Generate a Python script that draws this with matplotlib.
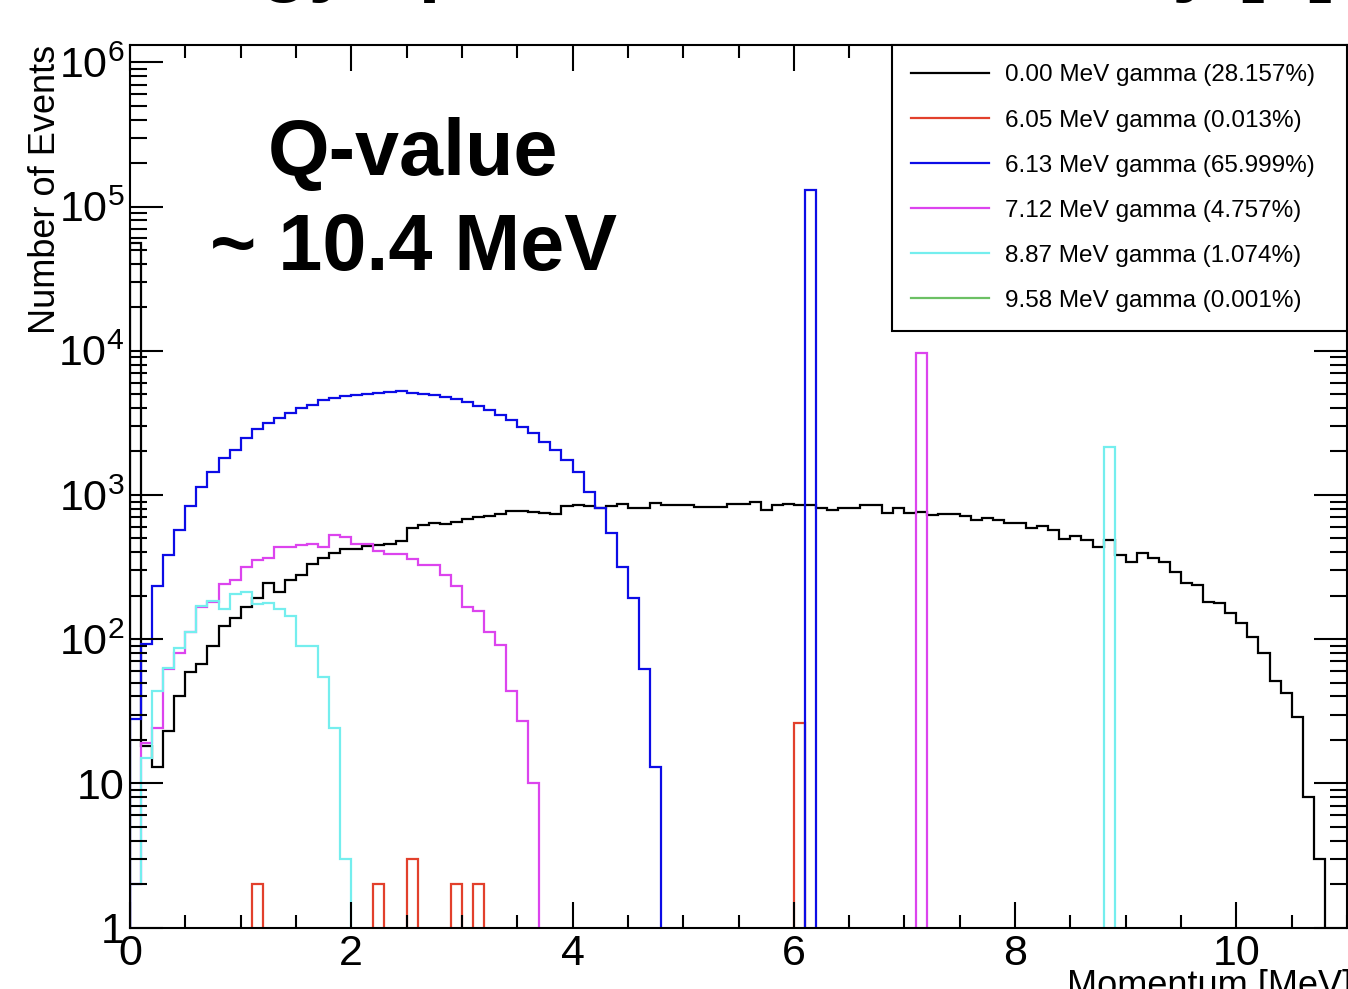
import numpy as np
import matplotlib.pyplot as plt
from matplotlib.lines import Line2D
from matplotlib.ticker import MultipleLocator, LogLocator, NullFormatter

plt.rcParams['font.family'] = ['Liberation Sans', 'DejaVu Sans']
plt.rcParams['mathtext.fontset'] = 'custom'
plt.rcParams['mathtext.rm'] = 'Liberation Sans'

# ==========================
# Binning (0.1 MeV bins, 0 - 11 MeV)
# ==========================
n_bins = 110
edges = np.arange(n_bins + 1) * 0.1

# ==========================
# Counts per bin
# ==========================
counts_0_00 = [
    56000, 18, 13, 23, 40, 59, 67, 90, 124, 140,
    167, 192, 246, 212, 258, 280, 330, 363, 395, 420,
    420, 440, 452, 455, 480, 592, 620, 638, 632, 645,
    678, 700, 712, 740, 772, 777, 762, 745, 735, 835,
    845, 835, 805, 835, 865, 807, 807, 875, 851, 851,
    845, 820, 820, 828, 870, 870, 892, 785, 851, 870,
    851, 845, 815, 780, 810, 807, 851, 851, 745, 805,
    753, 760, 720, 738, 738, 714, 665, 688, 665, 635,
    635, 587, 609, 571, 492, 519, 487, 437, 487, 383,
    344, 394, 363, 344, 294, 244, 237, 180, 177, 151,
    129, 104, 80, 51, 42, 29, 8, 3, 0, 0,
]

counts_6_05 = [0] * n_bins
for b, v in [(11, 2), (22, 2), (25, 3), (29, 2), (31, 2), (60, 26)]:
    counts_6_05[b] = v

counts_6_13 = [
    28, 93, 233, 385, 571, 842, 1128, 1447, 1815, 2040,
    2480, 2850, 3130, 3390, 3700, 4020, 4200, 4520, 4720, 4820,
    4930, 4985, 5070, 5145, 5230, 5115, 5010, 4955, 4750, 4650,
    4405, 4130, 3880, 3600, 3300, 2970, 2670, 2340, 2040, 1740,
    1432, 1052, 807, 540, 315, 192, 62, 13,
] + [0] * 62
counts_6_13[61] = 131000

counts_7_12 = [
    2, 19, 24, 62, 80, 112, 168, 180, 242, 257,
    318, 354, 363, 437, 437, 449, 456, 437, 527, 508,
    458, 455, 410, 387, 387, 362, 327, 327, 280, 232,
    167, 156, 112, 91, 44, 27, 10,
] + [0] * 73
counts_7_12[71] = 9600

counts_8_87 = [
    2, 15, 44, 63, 87, 112, 171, 183, 163, 205,
    213, 174, 177, 163, 145, 89, 89, 55, 24, 3,
] + [0] * 90
counts_8_87[88] = 2150

counts_9_58 = [0] * n_bins

labels = [
    "0.00 MeV gamma (28.157%)",
    "6.05 MeV gamma (0.013%)",
    "6.13 MeV gamma (65.999%)",
    "7.12 MeV gamma (4.757%)",
    "8.87 MeV gamma (1.074%)",
    "9.58 MeV gamma (0.001%)",
]
colors = ["#000000", "#e2402c", "#0c0ce6", "#dc44ee", "#74eeee", "#6cc064"]
series = [counts_0_00, counts_6_05, counts_6_13, counts_7_12, counts_8_87, counts_9_58]

y_top = 10 ** 6.12

# ==========================
# Plot
# ==========================
fig = plt.figure(figsize=(13.48, 9.89), dpi=100)
ax = fig.add_axes([130 / 1348, 61.5 / 989, 1217 / 1348, 882.5 / 989])

floor = 1e-3  # empty bins drawn below the log axis, like ROOT
for counts, c in zip(series, colors):
    vals = np.asarray(counts, dtype=float)
    vals = np.where(vals > 0, vals, floor)
    ax.stairs(vals, edges, baseline=floor, color=c, lw=1.6)

ax.set_yscale("log")
ax.set_xlim(0, 11)
ax.set_ylim(1, y_top)

ax.xaxis.set_major_locator(MultipleLocator(2))
ax.xaxis.set_minor_locator(MultipleLocator(0.5))
ax.set_yticks([1, 10, 1e2, 1e3, 1e4, 1e5, 1e6])
ax.set_yticklabels(["1", "10"] + [r"$\mathregular{10^{%d}}$" % k for k in range(2, 7)])
ax.yaxis.set_minor_locator(LogLocator(base=10, subs=np.arange(2, 10), numticks=30))
ax.yaxis.set_minor_formatter(NullFormatter())

ax.tick_params(which="both", direction="in", top=True, right=True, width=1.5,
               labelsize=31)
ax.tick_params(axis="y", which="major", length=24, pad=4)
ax.tick_params(axis="y", which="minor", length=12)
ax.tick_params(axis="x", which="major", length=19, pad=5)
ax.tick_params(axis="x", which="minor", length=9.5)
for sp in ax.spines.values():
    sp.set_linewidth(1.5)

handles = [Line2D([], [], color=c, lw=1.6) for c in colors]
leg = ax.legend(handles, labels, loc="upper left",
                bbox_to_anchor=(892 / 1348, 1 - 45 / 989, 455 / 1348, 0.0),
                bbox_transform=fig.transFigure, mode="expand",
                fontsize=17.5, frameon=True, fancybox=False, framealpha=1,
                edgecolor="black", borderpad=0.8, labelspacing=0.95,
                handlelength=3.2, handletextpad=0.65, borderaxespad=0)
leg.get_frame().set_linewidth(1.5)

fig.text(413 / 1348, 1 - 175 / 989, "Q-value", ha="center", va="baseline",
         fontsize=57, fontweight="bold")
fig.text(413 / 1348, 1 - 270 / 989, "~ 10.4 MeV", ha="center", va="baseline",
         fontsize=57, fontweight="bold")

fig.text(46 / 1348, 1 - 45 / 989, "Number of Events", rotation=90,
         ha="center", va="top", fontsize=26)
fig.text(1352 / 1348, 1 - 969 / 989, "Momentum [MeV]", ha="right", va="top",
         fontsize=26)

# slide title, mostly cut off by the top edge
fig.text(84 / 1348, 1 + 14 / 989, "Energy spectrum of ¹⁶N decay [1]", ha="left",
         va="baseline", fontsize=57, fontweight="bold")

fig.savefig("out.png", dpi=100)
